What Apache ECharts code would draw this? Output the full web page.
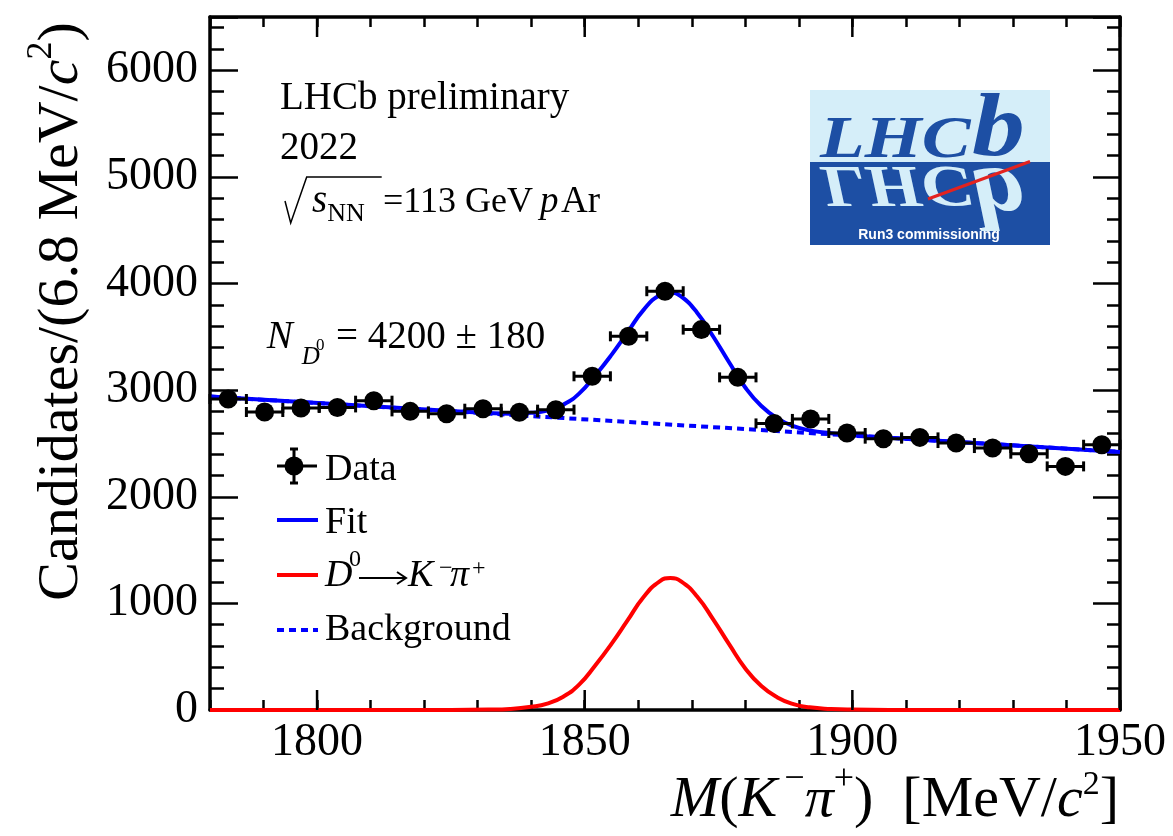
<!DOCTYPE html>
<html>
<head>
<meta charset="utf-8">
<script src="https://cdn.jsdelivr.net/npm/echarts@6/dist/echarts.min.js"></script>
<style>
  html, body { margin: 0; background: #fff; }
  #chart { width: 1173px; height: 836px; }
</style>
</head>
<body>
<div id="chart"></div>
<script>
// D0 -> K- pi+ mass fit, 6.8 MeV bins
const binCenters = [1783.4, 1790.2, 1797.0, 1803.8, 1810.6, 1817.4, 1824.2, 1831.0, 1837.8, 1844.6,
  1851.4, 1858.2, 1865.0, 1871.8, 1878.6, 1885.4, 1892.2, 1899.0, 1905.8, 1912.6,
  1919.4, 1926.2, 1933.0, 1939.8, 1946.6];
const binHalfWidth = 3.4;
const counts = [2917, 2795, 2833, 2838, 2901, 2801, 2779, 2826, 2792, 2817,
  3130, 3505, 3928, 3568, 3120, 2688, 2730, 2598, 2545, 2557,
  2504, 2457, 2404, 2285, 2488];
const countErrors = [54, 53, 53, 53, 54, 53, 53, 53, 53, 53,
  56, 59, 63, 60, 56, 52, 52, 51, 50, 51,
  50, 50, 49, 48, 50];

// fit curves
const curveMass = [1780, 1825, 1832, 1836, 1840, 1843, 1846, 1849, 1852, 1855, 1858, 1861, 1864, 1866,
  1868, 1871, 1874, 1877, 1880, 1883, 1886, 1889, 1892, 1896, 1900, 1907, 1950];
const fitValues = [2940, 2804, 2785, 2779, 2787, 2808, 2864, 2970, 3140, 3331, 3542, 3753, 3891, 3915,
  3879, 3727, 3503, 3259, 3025, 2851, 2735, 2663, 2623, 2596, 2578, 2554, 2421];
const signalValues = [0, 1, 4, 10, 30, 60, 125, 240, 420, 620, 840, 1060, 1207, 1237,
  1207, 1065, 850, 615, 390, 225, 118, 55, 25, 10, 4, 1, 0];
const bkgMass = [1780, 1950];
const bkgValues = [2940, 2421];

const xMajorTicks = [1800, 1850, 1900, 1950];

const SERIF = 'Liberation Serif';
const measureCtx = document.createElement('canvas').getContext('2d');

function textWidth(t, size, italic) {
  measureCtx.font = (italic ? 'italic ' : '') + size + 'px "' + SERIF + '"';
  return measureCtx.measureText(t).width;
}

// segs: [text, size, italic, rise]; base is the baseline
function textRun(segs, x0, base, anchor) {
  const widths = segs.map(s => textWidth(s[0], s[1], s[2]));
  const total = widths.reduce((a, b) => a + b, 0);
  let x = x0;
  if (anchor === 'right') x = x0 - total;
  if (anchor === 'center') x = x0 - total / 2;
  return segs.map((s, i) => {
    const el = {
      type: 'text',
      x: x,
      y: base - (s[3] || 0) - 0.3375 * s[1],
      style: {
        text: s[0], fontSize: s[1], fontFamily: SERIF,
        fontStyle: s[2] ? 'italic' : 'normal', fill: '#000',
        align: 'left', verticalAlign: 'middle',
      },
    };
    x += widths[i];
    return el;
  });
}

function renderPoint(params, api) {
  const x = api.value(0);
  const y = api.value(1);
  const e = api.value(2);
  const c = api.coord([x, y]);
  const l = api.coord([x - binHalfWidth, y]);
  const r = api.coord([x + binHalfWidth, y]);
  const t = api.coord([x, y + e]);
  const b = api.coord([x, y - e]);
  const ln = { stroke: '#000', lineWidth: 3 };
  return {
    type: 'group',
    children: [
      { type: 'line', shape: { x1: l[0], y1: c[1], x2: r[0], y2: c[1] }, style: ln },
      { type: 'line', shape: { x1: l[0], y1: c[1] - 5, x2: l[0], y2: c[1] + 5 }, style: ln },
      { type: 'line', shape: { x1: r[0], y1: c[1] - 5, x2: r[0], y2: c[1] + 5 }, style: ln },
      { type: 'line', shape: { x1: c[0], y1: t[1], x2: c[0], y2: b[1] }, style: ln },
      { type: 'circle', shape: { cx: c[0], cy: c[1], r: 9.5 }, style: { fill: '#000' } },
    ],
  };
}

function renderMajorTick(params, api) {
  const x = api.value(0);
  const b = api.coord([x, 0]);
  const t = api.coord([x, 6500]);
  const st = { stroke: '#000', lineWidth: 2.5 };
  return {
    type: 'group',
    children: [
      { type: 'line', shape: { x1: b[0], y1: b[1], x2: b[0], y2: b[1] - 20 }, style: st },
      { type: 'line', shape: { x1: t[0], y1: t[1], x2: t[0], y2: t[1] + 20 }, style: st },
    ],
  };
}

const axisLine = { show: true, onZero: false, lineStyle: { color: '#000', width: 3.5 } };
const tickStyle = { color: '#000', width: 2.5 };

function xAxis(position) {
  return {
    type: 'value', position: position, min: 1780, max: 1950, interval: 10,
    axisLine: axisLine,
    axisTick: { inside: true, length: 10, lineStyle: tickStyle },
    axisLabel: {
      show: position === 'bottom',
      formatter: v => (v % 50 === 0 ? String(v) : ''),
      color: '#000', fontFamily: SERIF, fontSize: 46, margin: 10,
    },
    splitLine: { show: false },
  };
}

function yAxis(position, interval, length, labels) {
  return {
    type: 'value', position: position, min: 0, max: 6500, interval: interval,
    axisLine: interval === 200 ? axisLine : { show: false },
    axisTick: { inside: true, length: length, lineStyle: tickStyle },
    axisLabel: {
      show: labels,
      formatter: v => (v % 1000 === 0 ? String(v) : ''),
      color: '#000', fontFamily: SERIF, fontSize: 46, margin: 12,
    },
    splitLine: { show: false },
  };
}

// texts
const graphics = [];

graphics.push(...textRun([['LHCb preliminary', 39]], 280, 112));
graphics.push(...textRun([['2022', 39]], 280, 162));
graphics.push({
  type: 'polyline',
  shape: { points: [[285, 201], [290.7, 223], [306.7, 177], [381.7, 177]] },
  style: { stroke: '#000', lineWidth: 1.5, fill: null },
});
graphics.push(...textRun([['s', 39, true], ['NN', 26, false, -8]], 312, 215));
graphics.push(...textRun([['=113 GeV', 36]], 383, 215));
graphics.push(...textRun([['p', 37, true]], 540, 215));
graphics.push(...textRun([['Ar', 37]], 561, 215));

graphics.push(...textRun([['N', 39, true]], 266.7, 351));
graphics.push(...textRun([['D', 25, true]], 301.7, 366));
graphics.push(...textRun([['0', 17]], 316, 351));
graphics.push(...textRun([['= 4200 \u00b1 180', 39]], 336, 351));

// legend
const blk = { stroke: '#000', lineWidth: 3 };
graphics.push(
  { type: 'line', shape: { x1: 277, y1: 466, x2: 317, y2: 466 }, style: blk },
  { type: 'line', shape: { x1: 294, y1: 449, x2: 294, y2: 483 }, style: blk },
  { type: 'line', shape: { x1: 290, y1: 449, x2: 298, y2: 449 }, style: blk },
  { type: 'line', shape: { x1: 290, y1: 483, x2: 298, y2: 483 }, style: blk },
  { type: 'circle', shape: { cx: 294, cy: 466, r: 9.5 }, style: { fill: '#000' } },
  { type: 'line', shape: { x1: 277, y1: 520, x2: 318, y2: 520 }, style: { stroke: '#0000ff', lineWidth: 4 } },
  { type: 'line', shape: { x1: 277, y1: 575, x2: 318, y2: 575 }, style: { stroke: '#ff0000', lineWidth: 4 } },
  { type: 'line', shape: { x1: 277, y1: 630, x2: 318, y2: 630 }, style: { stroke: '#0000ff', lineWidth: 4, lineDash: [7, 5] } }
);
graphics.push(...textRun([['Data', 38]], 325, 483));
graphics.push(...textRun([['Fit', 38]], 325, 536));
graphics.push(...textRun([['D', 38, true]], 325, 589));
graphics.push(...textRun([['0', 24]], 349, 568));
// arrow
graphics.push(
  { type: 'line', shape: { x1: 359, y1: 578, x2: 405, y2: 578 }, style: { stroke: '#000', lineWidth: 2 } },
  { type: 'polyline', shape: { points: [[397, 572], [406, 578], [397, 584]] }, style: { stroke: '#000', lineWidth: 2, fill: null } }
);
graphics.push(...textRun([['K', 38, true]], 408, 589));
graphics.push(...textRun([['\u2212', 24]], 439, 577));
graphics.push(...textRun([['\u03c0', 38, true]], 450, 589));
graphics.push(...textRun([['+', 24]], 472, 577));
graphics.push(...textRun([['Background', 38]], 325, 643));

// axis titles
graphics.push(...textRun([
  ['M', 58, true], ['(', 58], ['K', 58, true], ['\u2009\u2212', 36, false, 28], ['\u03c0', 58, true],
  ['+', 36, false, 28], [')', 58], ['\u2002[MeV/', 58], ['c', 58, true], ['2', 34, false, 23], [']', 58],
], 1119, 820, 'right'));
graphics.push({
  type: 'group', x: 81, y: 311.5, rotation: Math.PI / 2,
  children: textRun([
    ['Candidates/(6.8 MeV/', 58], ['c', 58, true], ['2', 36, false, 27], [')', 58],
  ], 0, 0, 'center'),
});

// LHCb logo
const logoLight = '#d5eef9';
const logoDark = '#1d4fa4';
function logoText(t, x, size, sx, flip) {
  return {
    type: 'text', x: x, y: 162, scaleX: sx, scaleY: flip ? -1 : 1,
    style: {
      text: t, x: 0, y: -0.3375 * size, fontSize: size, fontFamily: SERIF, fontStyle: 'italic',
      fontWeight: 'bold', fill: flip ? logoLight : logoDark, align: 'left', verticalAlign: 'middle',
    },
  };
}
graphics.push(
  { type: 'rect', shape: { x: 810, y: 90, width: 240, height: 72 }, style: { fill: logoLight } },
  { type: 'rect', shape: { x: 810, y: 162, width: 240, height: 83 }, style: { fill: logoDark } },
  logoText('LHC', 820, 60, 1.22, true),
  logoText('b', 972, 88, 1.2, true),
  { type: 'line', shape: { x1: 928, y1: 199, x2: 1030, y2: 161.5 }, style: { stroke: '#e3231f', lineWidth: 3 } },
  logoText('LHC', 820, 60, 1.22, false),
  logoText('b', 972, 88, 1.2, false),
  {
    type: 'text', x: 929, y: 235,
    style: {
      text: 'Run3 commissioning', fontSize: 14, fontWeight: 'bold', fontFamily: 'Liberation Sans',
      fill: '#fff', align: 'center', verticalAlign: 'middle',
    },
  }
);

const chart = echarts.init(document.getElementById('chart'));
chart.setOption({
  animation: false,
  backgroundColor: '#fff',
  grid: { left: 210, right: 53, top: 17, bottom: 126, containLabel: false, outerBoundsMode: 'none' },
  xAxis: [xAxis('bottom'), xAxis('top')],
  yAxis: [
    yAxis('left', 200, 14, true),
    yAxis('left', 1000, 28, false),
    yAxis('right', 200, 13, false),
    yAxis('right', 1000, 27, false),
  ],
  series: [
    {
      name: 'Background', type: 'line', z: 2, clip: false, symbol: 'none', silent: true,
      data: bkgMass.map((x, i) => [x, bkgValues[i]]),
      lineStyle: { color: '#0000ff', width: 4, type: [7, 5] },
    },
    {
      name: 'Fit', type: 'line', z: 3, clip: false, symbol: 'none', silent: true,
      smooth: 0.5,
      data: curveMass.map((x, i) => [x, fitValues[i]]),
      lineStyle: { color: '#0000ff', width: 4 },
    },
    {
      name: 'Signal', type: 'line', z: 4, clip: false, symbol: 'none', silent: true,
      smooth: 0.5,
      data: curveMass.map((x, i) => [x, signalValues[i]]),
      lineStyle: { color: '#ff0000', width: 4 },
    },
    {
      name: 'Data', type: 'custom', z: 5, silent: true,
      renderItem: renderPoint,
      encode: { x: 0, y: 1 },
      data: binCenters.map((x, i) => [x, counts[i], countErrors[i]]),
    },
    {
      name: 'Major ticks', type: 'custom', z: 6, silent: true,
      renderItem: renderMajorTick,
      encode: { x: 0, y: 1 },
      data: xMajorTicks.map(v => [v, 0]),
    },
  ],
  graphic: { elements: graphics },
});
</script>
</body>
</html>
